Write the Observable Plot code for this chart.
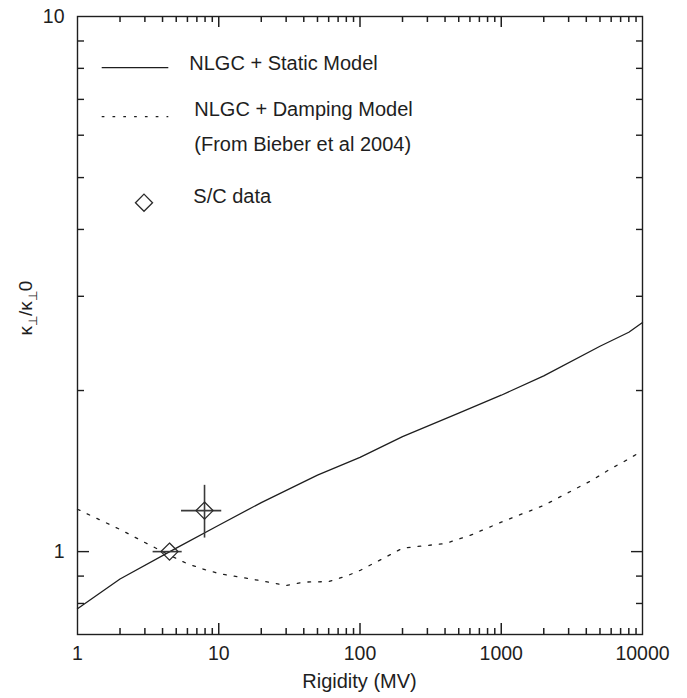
<!DOCTYPE html>
<html><head><meta charset="utf-8">
<script src="https://cdn.jsdelivr.net/npm/d3@7"></script>
<script src="https://cdn.jsdelivr.net/npm/@observablehq/plot@0.6"></script>
<style>body{margin:0;background:#fff}#chart svg{display:block}</style>
</head><body><div id="chart"></div>
<script>
// ---- data ----
const staticRigidity = [1, 2, 5, 10, 20, 50, 100, 200, 500, 1000, 2000, 5000, 8000, 10000];
const staticKappa    = [0.782, 0.889, 1.015, 1.12, 1.235, 1.39, 1.50, 1.64, 1.815, 1.96, 2.13, 2.42, 2.57, 2.68];

const dampingRigidity = [1, 2, 3, 4.5, 6, 8, 10, 20, 30, 40, 60, 80, 100, 150, 200, 300, 400, 600, 1000, 2000, 3000, 4400, 6000, 8000, 10000];
const dampingKappa    = [1.2, 1.1, 1.04, 0.984, 0.949, 0.925, 0.91, 0.882, 0.864, 0.877, 0.879, 0.9, 0.922, 0.975, 1.015, 1.027, 1.035, 1.072, 1.135, 1.22, 1.29, 1.36, 1.43, 1.49, 1.545];

const scRigidity     = [4.48, 7.93];
const scKappa        = [1.0, 1.193];
const scRigidityLow  = [3.43, 5.45];
const scRigidityHigh = [5.51, 10.5];
const scKappaLow     = [1.0, 1.06];
const scKappaHigh    = [1.0, 1.33];

const xTickLabels = [1, 10, 100, 1000, 10000];
const xMinorTicks = [2,3,4,5,6,7,8,9,20,30,40,50,60,70,80,90,200,300,400,500,600,700,800,900,2000,3000,4000,5000,6000,7000,8000,9000];
const yTickLabels = [1, 10];
const yMinorTicks = [0.8, 0.9, 2, 3, 4, 5, 6, 7, 8, 9];

const legendLabels = ["NLGC + Static Model", "NLGC + Damping Model", "(From Bieber et al 2004)", "S/C data"];
const xTitle = "Rigidity (MV)";

// ---- tables ----
const staticData = staticRigidity.map((r, i) => ({r, k: staticKappa[i]}));
const dampingData = dampingRigidity.map((r, i) => ({r, k: dampingKappa[i]}));
const scData = scRigidity.map((r, i) => ({r, k: scKappa[i], rlo: scRigidityLow[i], rhi: scRigidityHigh[i], klo: scKappaLow[i], khi: scKappaHigh[i]}));

const ink = "#1e1e1e";
const fmt = d => String(d);
const W = 687, H = 698, mL = 77, mR = 45, mT = 16, mB = 64;
const frameH = H - mT - mB;
const opposite = {left: "right", right: "left"};
const tickAxes = [];
// inward x ticks (bottom and top edges)
const xMajorInner = xTickLabels.slice(1, -1);
tickAxes.push(Plot.tickX(xMajorInner, {x: d => d, insetTop: frameH - 11, stroke: ink, strokeWidth: 1.5}));
tickAxes.push(Plot.tickX(xMinorTicks, {x: d => d, insetTop: frameH - 6, stroke: ink, strokeWidth: 1.5}));
tickAxes.push(Plot.tickX(xMajorInner, {x: d => d, insetBottom: frameH - 11, stroke: ink, strokeWidth: 1.5}));
tickAxes.push(Plot.tickX(xMinorTicks, {x: d => d, insetBottom: frameH - 6, stroke: ink, strokeWidth: 1.5}));
// inward y ticks (left and right edges)
for (const a of ["left", "right"]) {
  tickAxes.push(Plot.axisY({anchor: opposite[a], frameAnchor: a, ticks: yTickLabels.slice(0, 1), tickSize: 11, tickFormat: () => "", label: null, stroke: ink, strokeWidth: 1.4}));
  tickAxes.push(Plot.axisY({anchor: opposite[a], frameAnchor: a, ticks: yMinorTicks, tickSize: 6, tickFormat: () => "", label: null, stroke: ink, strokeWidth: 1.4}));
}

const plot = Plot.plot({
  width: W, height: H,
  marginLeft: mL, marginRight: mR, marginTop: mT, marginBottom: mB,
  x: {type: "log", domain: [1, 10000]},
  y: {type: "log", domain: [0.7, 10]},
  style: {fontFamily: "'Liberation Sans', Arial, sans-serif", fontSize: "19.5px", color: ink, background: "#fff"},
  marks: [
    ...tickAxes,
    Plot.axisX({anchor: "bottom", ticks: xTickLabels, tickSize: 0, tickPadding: 12, tickFormat: fmt, label: null}),
    Plot.axisY({anchor: "left", ticks: yTickLabels, tickSize: 0, tickPadding: 13, tickFormat: fmt, label: null}),
    Plot.frame({stroke: ink, strokeWidth: 1.4}),
    Plot.line(staticData, {x: "r", y: "k", stroke: ink, strokeWidth: 1.3}),
    Plot.line(dampingData, {x: "r", y: "k", stroke: ink, strokeWidth: 1.3, strokeDasharray: "2.7,8"}),
    Plot.ruleY(scData, {y: "k", x1: "rlo", x2: "rhi", stroke: "#3a3a3a", strokeWidth: 1.6}),
    Plot.ruleX(scData, {x: "r", y1: "klo", y2: "khi", stroke: "#3a3a3a", strokeWidth: 1.6}),
    Plot.dot(scData, {x: "r", y: "k", symbol: "diamond2", r: 7.7, stroke: "#2a2a2a", strokeWidth: 1.3, fill: "none"})
  ]
});

const svg = d3.select(plot);
// x title
svg.append("text").attr("x", (mL + W - mR) / 2).attr("y", 688).attr("text-anchor", "middle")
  .attr("font-size", 20).attr("fill", ink).text(xTitle);
// y title with subscripts
const yl = svg.append("text").attr("transform", "translate(32,308) rotate(-90)")
  .attr("text-anchor", "middle").attr("font-size", 19).attr("fill", ink);
yl.append("tspan").text("κ");
yl.append("tspan").attr("font-size", 12).attr("dy", 5).text("⊥");
yl.append("tspan").attr("dy", -5).text("/κ");
yl.append("tspan").attr("font-size", 12).attr("dy", 5).text("⊥");
yl.append("tspan").attr("dy", -5).text("0");

// legend
const lg = svg.append("g").attr("font-size", 20).attr("fill", ink).attr("text-anchor", "start");
lg.append("line").attr("x1", 101.7).attr("x2", 168.3).attr("y1", 67.7).attr("y2", 67.7).attr("stroke", ink).attr("stroke-width", 1.3);
lg.append("text").attr("x", 189.3).attr("y", 70).text(legendLabels[0]);
lg.append("line").attr("x1", 101.7).attr("x2", 168.3).attr("y1", 116.7).attr("y2", 116.7).attr("stroke", ink).attr("stroke-width", 1.3).attr("stroke-dasharray", "2.7,8.1");
lg.append("text").attr("x", 194.3).attr("y", 115.7).text(legendLabels[1]);
lg.append("text").attr("x", 194.3).attr("y", 151).text(legendLabels[2]);
lg.append("path").attr("transform", "translate(144,202.7)").attr("d", d3.symbol(d3.symbolDiamond2, Math.PI * 7.7 * 7.7)())
  .attr("fill", "none").attr("stroke", "#2a2a2a").attr("stroke-width", 1.3);
lg.append("text").attr("x", 193.3).attr("y", 203.3).text(legendLabels[3]);

document.getElementById("chart").append(plot);
</script></body></html>
